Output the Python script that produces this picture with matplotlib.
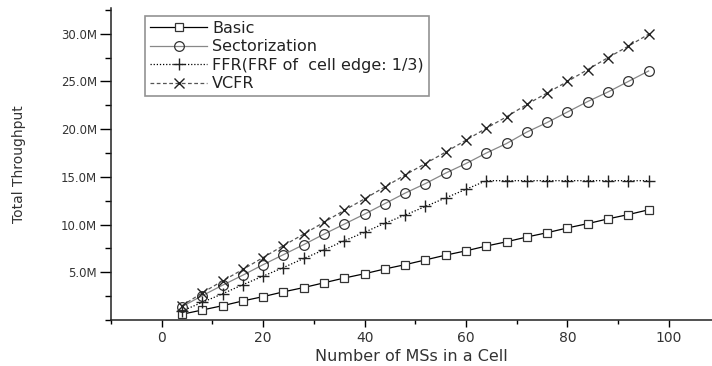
import matplotlib
matplotlib.use("Agg")
import matplotlib.pyplot as plt
from matplotlib.ticker import MultipleLocator, FuncFormatter, FixedLocator

plt.rcParams['font.family'] = ['DejaVu Sans']

ms_counts = [4, 8, 12, 16, 20, 24, 28, 32, 36, 40, 44, 48,
             52, 56, 60, 64, 68, 72, 76, 80, 84, 88, 92, 96]

basic = [0.6, 1.05, 1.5, 2.0, 2.45, 2.95, 3.4, 3.9, 4.4, 4.85, 5.35, 5.8,
         6.3, 6.8, 7.25, 7.75, 8.2, 8.7, 9.15, 9.65, 10.1, 10.6, 11.05, 11.55]
sectorization = [1.4, 2.55, 3.65, 4.7, 5.8, 6.85, 7.9, 9.0, 10.05, 11.1, 12.2, 13.3,
                 14.3, 15.4, 16.4, 17.5, 18.5, 19.7, 20.7, 21.8, 22.9, 23.9, 25.0, 26.1]
ffr = [0.95, 1.85, 2.75, 3.7, 4.6, 5.5, 6.45, 7.35, 8.3, 9.2, 10.15, 11.0,
       11.9, 12.8, 13.7, 14.6, 14.6, 14.6, 14.6, 14.6, 14.6, 14.6, 14.6, 14.6]
vcfr = [1.5, 2.85, 4.1, 5.3, 6.55, 7.8, 9.0, 10.25, 11.5, 12.7, 13.95, 15.2,
        16.4, 17.6, 18.85, 20.1, 21.3, 22.6, 23.8, 25.0, 26.25, 27.5, 28.7, 29.95]

labels = ["Basic", "Sectorization", "FFR(FRF of  cell edge: 1/3)", "VCFR"]
x_major = [0, 20, 40, 60, 80, 100]
y_major = [5, 10, 15, 20, 25, 30]

fig = plt.figure(figsize=(7.12, 3.66), dpi=100)
ax = fig.add_axes([111/712, 1 - 320/366, 1 - 111/712, (320 - 8)/366])

ax.plot(ms_counts, basic, color='black', lw=0.9, marker='s', ms=6,
        mfc='white', mec='#333333', mew=0.9, label=labels[0])
ax.plot(ms_counts, sectorization, color='#888888', lw=0.9, marker='o', ms=7,
        mfc='none', mec='#333333', mew=0.9, label=labels[1])
ax.plot(ms_counts, ffr, color='black', lw=0.9, ls=(0, (1, 1.5)), marker='+', ms=8,
        mec='#222222', mew=1.0, label=labels[2])
ax.plot(ms_counts, vcfr, color='#555555', lw=0.9, ls=(0, (3, 2)), marker='x', ms=7,
        mec='#222222', mew=1.0, label=labels[3])

ax.set_xlim(-10, 108.5)
ax.set_ylim(0, 32.7)
ax.xaxis.set_major_locator(FixedLocator(x_major))
ax.xaxis.set_minor_locator(MultipleLocator(10))
ax.yaxis.set_major_locator(FixedLocator(y_major))
ax.yaxis.set_minor_locator(MultipleLocator(2.5))
ax.yaxis.set_major_formatter(FuncFormatter(lambda v, p: f"{v:.1f}M"))

for s in ['top', 'right']:
    ax.spines[s].set_visible(False)
for s in ['left', 'bottom']:
    ax.spines[s].set_linewidth(1.1)
    ax.spines[s].set_color('#222222')

ax.tick_params(axis='y', which='major', direction='out', length=8, width=1,
               labelsize=8.5, labelcolor='#333333', pad=2)
ax.tick_params(axis='y', which='minor', direction='out', length=4, width=1)
ax.tick_params(axis='x', which='major', direction='out', length=5, width=1,
               labelsize=10, labelcolor='#333333', pad=3)
ax.tick_params(axis='x', which='minor', direction='out', length=3, width=1)

ax.set_xlabel("Number of MSs in a Cell", fontsize=11.5, color='#333333', labelpad=3)
ax.set_ylabel("Total Throughput", fontsize=10, color='#333333', labelpad=25)

leg = ax.legend(loc='upper left', bbox_to_anchor=((145 - 111) / 601, (320 - 16) / 312),
                fontsize=11.5, handlelength=3.6, numpoints=1, frameon=True, fancybox=False,
                borderaxespad=0, labelspacing=0.22, handletextpad=0.3, borderpad=0.3)
leg.get_frame().set_edgecolor('#777777')
leg.get_frame().set_linewidth(1.2)
for t in leg.get_texts():
    t.set_color('#222222')

fig.savefig("out.png", dpi=100)
